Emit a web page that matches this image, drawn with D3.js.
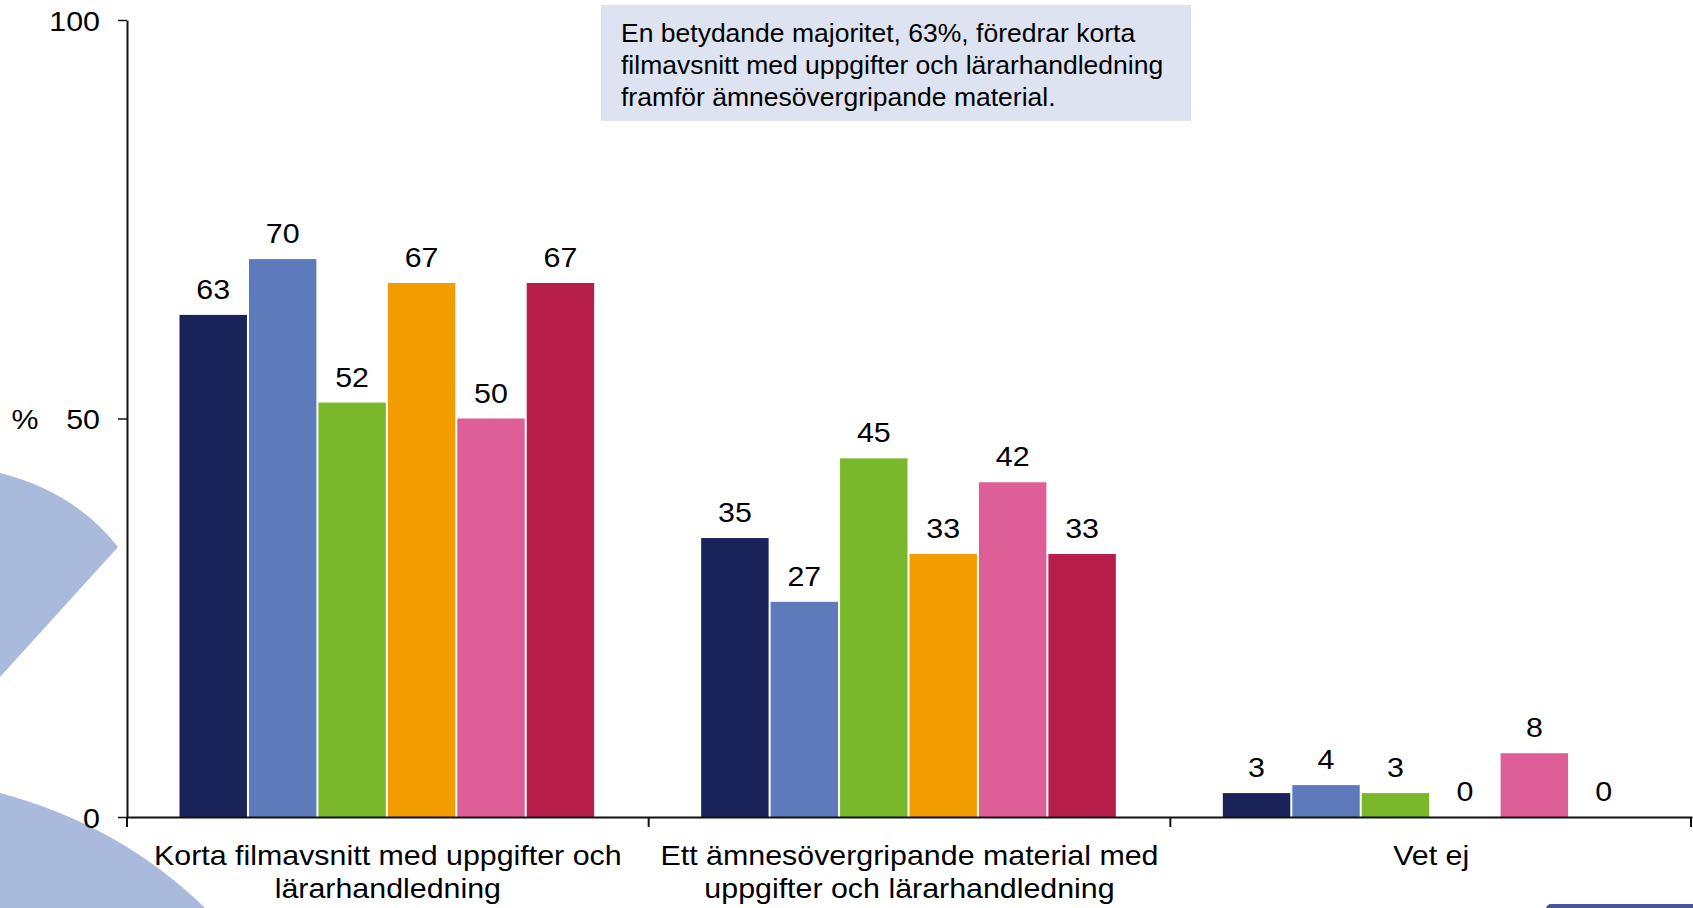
<!DOCTYPE html>
<html>
<head>
<meta charset="utf-8">
<script src="https://cdn.jsdelivr.net/npm/d3@7"></script>
<style>
  body { margin: 0; background: #fff; }
  text { font-family: "Liberation Sans", Arial, sans-serif; fill: #000; }
</style>
</head>
<body>
<div class="viz"></div>
<script>
// answer options, each split into its printed lines
const categories = ["Korta filmavsnitt med uppgifter och lärarhandledning",
                    "Ett ämnesövergripande material med uppgifter och lärarhandledning",
                    "Vet ej"];
const categoryLines = [["Korta filmavsnitt med uppgifter och", "lärarhandledning"],
                       ["Ett ämnesövergripande material med", "uppgifter och lärarhandledning"],
                       ["Vet ej"]];
// six respondent groups (no legend in the picture)
const series = ["g1", "g2", "g3", "g4", "g5", "g6"];
const colors = ["#1a2359", "#5d7aba", "#79b82b", "#f39c00", "#de5f97", "#b81e4a"];
// percent per category, one value per group
const values = [
  [63, 70, 52, 67, 50, 67],
  [35, 27, 45, 33, 42, 33],
  [3, 4, 3, 0, 8, 0]
];
const yTicks = [0, 50, 100];
const note = ["En betydande majoritet, 63%, föredrar korta",
              "filmavsnitt med uppgifter och lärarhandledning",
              "framför ämnesövergripande material."];

const width = 1693, height = 908;
const margin = ({top: 20, right: 1, bottom: 91, left: 127});
const SX = 1.085; // text in the original is a bit wider than Arial

const svg = d3.select('.viz').append('svg')
    .attr('width', width)
    .attr('height', height);

// slide decoration in the background
svg.append("path")
    .attr("d", "M0,473 Q75,492 118,547 L0,677 Z")
    .attr("fill", "#aabadc");
svg.append("path")
    .attr("d", "M0,793 Q120,825 205,908 L0,908 Z")
    .attr("fill", "#aabadc");
svg.append("rect")
    .attr("x", 1546).attr("y", 904).attr("width", 170).attr("height", 12).attr("rx", 5)
    .attr("fill", "#4a5590");

const label = (g, x, y, txt, anchor, size, sx = SX) => g.append("text")
    .attr("transform", `translate(${x},${y}) scale(${sx},1)`)
    .attr("text-anchor", anchor)
    .style("font-size", size + "px")
    .text(txt);

const y = d3.scaleLinear()
    .domain([0, 100])
    .range([height - margin.bottom, margin.top]);

const x0 = d3.scaleBand()
    .domain(categories)
    .range([margin.left, width - margin.right])
    .padding(0);

const x1 = d3.scaleBand()
    .domain(series)
    .range([52.5, x0.bandwidth() - 52.5])
    .padding(0);

// note box
const box = svg.append("g");
box.append("rect")
    .attr("x", 601).attr("y", 5).attr("width", 590).attr("height", 116)
    .attr("fill", "#dde3f1");
note.forEach((t, i) => label(box, 621, 42 + i * 32, t, "start", 25.5, 1.04));

// bars
const groups = svg.append("g")
  .selectAll("g").data(values).enter().append("g")
    .attr("transform", (d, i) => `translate(${x0(categories[i])},0)`);

groups.selectAll("rect").data(d => d).enter().append("rect")
    .attr("x", (d, i) => x1(series[i]))
    .attr("y", d => y(d))
    .attr("width", x1.bandwidth() - 2)
    .attr("height", d => y(0) - y(d))
    .attr("fill", (d, i) => colors[i]);

groups.each(function(d) {
  const g = d3.select(this);
  d.forEach((v, i) => label(g, x1(series[i]) + (x1.bandwidth() - 2) / 2, y(v) - 16, v, "middle", 28));
});

// y axis
const yAxis = svg.append("g")
    .attr("transform", `translate(${margin.left},0)`)
    .call(d3.axisLeft(y).tickValues(yTicks).tickSize(9).tickSizeOuter(0));
yAxis.select(".domain").attr("stroke", "#111").attr("stroke-width", 2);
yAxis.selectAll(".tick line").attr("stroke", "#111").attr("stroke-width", 1.5);
yAxis.selectAll(".tick text")
    .attr("x", null).attr("dy", "0.36em")
    .attr("transform", `translate(-27,0) scale(${SX},1)`)
    .style("font-size", "28px")
    .style("font-family", "Liberation Sans, Arial, sans-serif")
    .attr("fill", "#000");
label(svg, 25, y(50) + 10, "%", "middle", 28);

// x axis: line plus ticks on the category borders
const xAxis = svg.append("g")
    .attr("transform", `translate(0,${y(0)})`)
    .call(d3.axisBottom(x0).tickSize(0).tickFormat(""));
xAxis.select(".domain").attr("stroke", "#111").attr("stroke-width", 2);
xAxis.selectAll(".tick").remove();

const borders = categories.map(c => x0(c)).concat([x0.range()[1] - 1]);
xAxis.selectAll("line.border").data(borders).enter().append("line")
    .attr("class", "border")
    .attr("x1", d => d).attr("x2", d => d)
    .attr("y1", 0).attr("y2", 10)
    .attr("stroke", "#111").attr("stroke-width", 2);

categoryLines.forEach((lines, i) => {
  const cx = x0(categories[i]) + x0.bandwidth() / 2;
  lines.forEach((t, j) => label(svg, cx, 865 + j * 33, t, "middle", 28));
});
</script>
</body>
</html>
